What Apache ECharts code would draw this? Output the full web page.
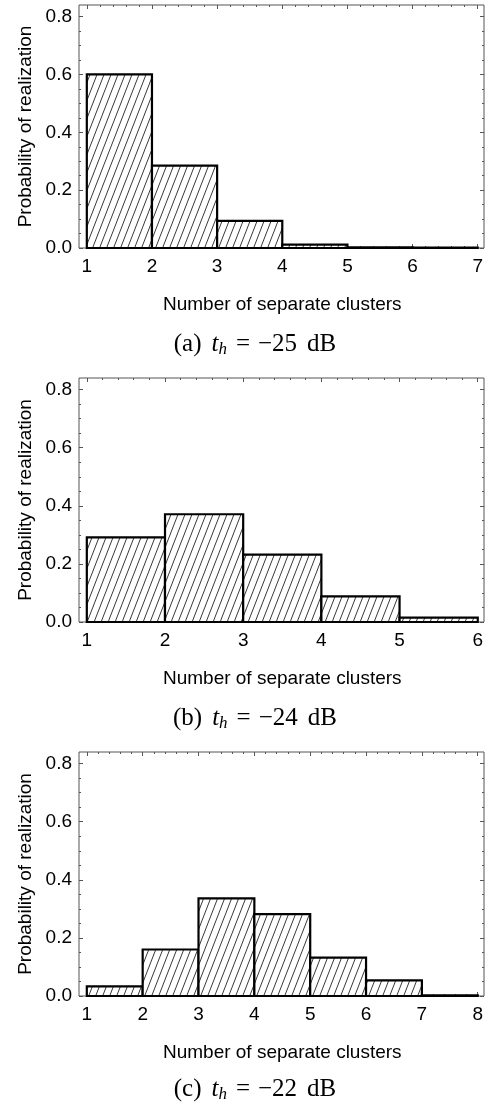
<!DOCTYPE html>
<html>
<head>
<meta charset="utf-8">
<script src="https://cdn.jsdelivr.net/npm/echarts@6/dist/echarts.min.js"></script>
<style>
html,body{margin:0;padding:0;background:#fff;}
#chart{width:493px;height:1108px;}
</style>
</head>
<body>
<div id="chart"></div>
<script>
// ---- data ----
const binStartsA = [1, 2, 3, 4, 5, 6];
const probA = [0.600, 0.285, 0.094, 0.012, 0.002, 0.001];
const binStartsB = [1, 2, 3, 4, 5];
const probB = [0.291, 0.371, 0.232, 0.088, 0.015];
const binStartsC = [1, 2, 3, 4, 5, 6, 7];
const probC = [0.033, 0.160, 0.336, 0.282, 0.132, 0.054, 0.002];
const captionLetters = ['(a)', '(b)', '(c)'];
const captionValues = ['−25', '−24', '−22'];
const xTitle = 'Number of separate clusters';
const yTitle = 'Probability of realization';
const yTickMax = 0.8;
const yTickStep = 0.2;
const yRangeMax = 0.84;

// ---- layout ----
const FRAME_L = 79, FRAME_W = 405;
const TOPS = [5, 378, 752];
const HEIGHTS = [243, 244, 244];
const CAPTION_TOPS = [326, 700, 1071];
const PAD_L = 0.02, PAD_R = 0.016;
const FRAME_COLOR = '#555';
const SANS = '"Liberation Sans", Arial, Helvetica, sans-serif';
const SERIF = '"Liberation Serif", "Times New Roman", serif';
const CAP_SIZE = 25;

// hatch pattern
function makeHatch() {
  const w = 7, h = 18;
  const c = document.createElement('canvas');
  c.width = w; c.height = h;
  const ctx = c.getContext('2d');
  ctx.fillStyle = '#fff';
  ctx.fillRect(0, 0, w, h);
  ctx.strokeStyle = '#222';
  ctx.lineWidth = 0.9;
  for (let k = -1; k <= 1; k++) {
    ctx.beginPath();
    ctx.moveTo(k * w - w, 2 * h);
    ctx.lineTo(k * w + 2 * w, -h);
    ctx.stroke();
  }
  return c;
}
const hatch = makeHatch();

const panels = [
  { starts: binStartsA, probs: probA },
  { starts: binStartsB, probs: probB },
  { starts: binStartsC, probs: probC }
];

const grid = [], xAxis = [], yAxis = [], series = [], title = [];
const tickLine = { color: FRAME_COLOR, width: 1 };

panels.forEach((p, i) => {
  const top = TOPS[i], h = HEIGHTS[i];
  const first = p.starts[0];
  const last = p.starts[p.starts.length - 1] + 1;
  const bWidth = FRAME_W / (1 + PAD_L + PAD_R);
  const bLeft = FRAME_L + bWidth * PAD_L;
  const cH = h * yTickMax / yRangeMax;

  grid.push({ left: FRAME_L, top: top, width: FRAME_W, height: h, show: true,
              borderColor: FRAME_COLOR, borderWidth: 1, backgroundColor: 'transparent' });
  grid.push({ left: bLeft, top: top, width: bWidth, height: h });
  grid.push({ left: FRAME_L, top: top + h - cH, width: FRAME_W, height: cH });
  const gF = 3 * i, gB = 3 * i + 1, gC = 3 * i + 2;

  // x axes
  xAxis.push({ gridIndex: gF, type: 'value', min: 0, max: 1, show: false });
  const xCommon = {
    gridIndex: gB, type: 'value', min: first, max: last, interval: 1,
    axisLine: { show: false },
    axisTick: { show: true, inside: true, length: 4, lineStyle: tickLine },
    minorTick: { show: true, splitNumber: 5, length: 2, lineStyle: tickLine },
    splitLine: { show: false }
  };
  xAxis.push(Object.assign({}, xCommon, {
    position: 'bottom',
    axisLabel: { show: true, margin: 9, fontSize: 19, color: '#000', fontFamily: SANS },
    name: xTitle, nameLocation: 'middle', nameGap: 47,
    nameTextStyle: { fontSize: 19, color: '#000', fontFamily: SANS }
  }));
  xAxis.push(Object.assign({}, xCommon, { position: 'top', axisLabel: { show: false } }));
  xAxis.push({ gridIndex: gC, type: 'value', min: 0, max: 1, show: false });

  // y axes
  yAxis.push({ gridIndex: gF, type: 'value', min: 0, max: 1,
    axisLine: { show: false }, axisTick: { show: false }, axisLabel: { show: false },
    splitLine: { show: false },
    name: yTitle, nameLocation: 'middle', nameGap: 44,
    nameTextStyle: { fontSize: 19, color: '#000', fontFamily: SANS } });
  yAxis.push({ gridIndex: gB, type: 'value', min: 0, max: yRangeMax, show: false });
  const yCommon = {
    gridIndex: gC, type: 'value', min: 0, max: yTickMax, interval: yTickStep,
    axisLine: { show: false },
    axisTick: { show: true, inside: true, length: 4, lineStyle: tickLine },
    minorTick: { show: true, splitNumber: 4, length: 2, lineStyle: tickLine },
    splitLine: { show: false }
  };
  yAxis.push(Object.assign({}, yCommon, {
    position: 'left',
    axisLabel: { show: true, margin: 7, fontSize: 19, color: '#000', fontFamily: SANS,
                 formatter: v => v.toFixed(1) }
  }));
  yAxis.push(Object.assign({}, yCommon, { position: 'right', axisLabel: { show: false } }));

  series.push({
    type: 'custom',
    xAxisIndex: 4 * i + 1,
    yAxisIndex: 4 * i + 1,
    data: p.starts.map((s, k) => [s, p.probs[k]]),
    renderItem: function (params, api) {
      const x = api.value(0), v = api.value(1);
      const p0 = api.coord([x, 0]);
      const p1 = api.coord([x + 1, v]);
      return {
        type: 'rect',
        shape: { x: p0[0], y: p1[1], width: p1[0] - p0[0], height: p0[1] - p1[1] },
        style: { fill: { image: hatch, repeat: 'repeat' }, stroke: '#000', lineWidth: 2.2 }
      };
    },
    z: 5
  });

  const base = { fontFamily: SERIF, fontSize: CAP_SIZE, color: '#000' };
  title.push({
    text: '{n|' + captionLetters[i] + '}{i|t}{s|h}{e|=}{n|' + captionValues[i] + '}{d|dB}',
    left: 250, top: CAPTION_TOPS[i], textAlign: 'center',
    textStyle: {
      fontFamily: SERIF, fontSize: CAP_SIZE, fontWeight: 'normal', color: '#000',
      rich: {
        n: Object.assign({}, base),
        i: Object.assign({}, base, { fontStyle: 'italic', padding: [0, 0, 0, 10] }),
        s: Object.assign({}, base, { fontSize: 17, fontStyle: 'italic', padding: [10, 0, 0, 0] }),
        e: Object.assign({}, base, { padding: [0, 8, 0, 9] }),
        d: Object.assign({}, base, { padding: [0, 0, 0, 10] })
      }
    }
  });
});

const chart = echarts.init(document.getElementById('chart'), null, { renderer: 'canvas' });
chart.setOption({
  animation: false,
  backgroundColor: '#fff',
  title: title,
  grid: grid,
  xAxis: xAxis,
  yAxis: yAxis,
  series: series
});
</script>
</body>
</html>
